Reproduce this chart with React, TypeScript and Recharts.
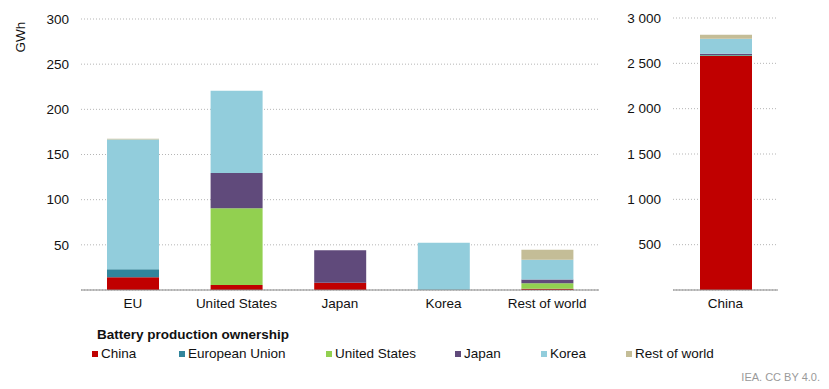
import { BarChart, Bar, XAxis, YAxis, CartesianGrid } from 'recharts'

// Categories: the first five go in the left panel, China gets its own scale on the right
const categories = ['EU', 'United States', 'Japan', 'Korea', 'Rest of world', 'China']

// Battery production (GWh) by ownership
const ownChina = [14, 5.5, 8, 0, 1.5, 2580]
const ownEU = [9, 0, 0, 0, 0, 8]
const ownUS = [0, 85, 0, 0, 6, 5]
const ownJapan = [0, 39, 36, 0, 4, 12]
const ownKorea = [143.5, 91, 0, 52.4, 22, 165]
const ownRoW = [1, 0, 0, 0, 11, 45]

const leftTicks = [50, 100, 150, 200, 250, 300]
const rightTicks = [500, 1000, 1500, 2000, 2500, 3000]

const series = [
  { key: 'china', name: 'China', color: '#C00000', values: ownChina },
  { key: 'eu', name: 'European Union', color: '#31859C', values: ownEU },
  { key: 'us', name: 'United States', color: '#92D050', values: ownUS },
  { key: 'japan', name: 'Japan', color: '#604A7B', values: ownJapan },
  { key: 'korea', name: 'Korea', color: '#92CDDC', values: ownKorea },
  { key: 'row', name: 'Rest of world', color: '#C4BD97', values: ownRoW },
]

const rows = categories.map((name, i) => {
  const row: Record<string, string | number> = { name }
  series.forEach((s) => {
    row[s.key] = s.values[i]
  })
  return row
})
const leftData = rows.slice(0, 5)
const rightData = rows.slice(5)

const font = '"Liberation Sans", Arial, sans-serif'
const tickStyle = { fontSize: 13.5, fill: '#111', fontFamily: font }
const fmtThousands = (v: number) => String(v).replace(/\B(?=(\d{3})+(?!\d))/g, ' ')

// legend item x positions, as laid out in the original
const legendX = [92, 179, 326, 455, 541, 626]

if (typeof document !== 'undefined') document.body.style.margin = '0'

export default function App() {
  const bars = series.map((s) => (
    <Bar key={s.key} dataKey={s.key} name={s.name} stackId="a" fill={s.color} barSize={52} isAnimationActive={false} />
  ))

  return (
    <div style={{ position: 'relative', width: 829, height: 389, background: '#fff', fontFamily: font, overflow: 'hidden' }}>
      <div
        style={{
          position: 'absolute', left: 20, top: 37, transform: 'translate(-50%, -50%) rotate(-90deg)',
          fontSize: 13.5, color: '#111', whiteSpace: 'nowrap',
        }}
      >
        GWh
      </div>

      <div style={{ position: 'absolute', left: 0, top: 0 }}>
        <BarChart width={610} height={320} data={leftData} margin={{ top: 19, right: 11, left: 0, bottom: 0 }}>
          <CartesianGrid vertical={false} stroke="#b5b5b5" strokeDasharray="1 2" />
          <XAxis dataKey="name" axisLine={{ stroke: '#888' }} tickLine={false} tick={tickStyle} height={30} interval={0} />
          <YAxis domain={[0, 300]} ticks={leftTicks} axisLine={false} tickLine={false} tick={tickStyle} width={81} tickMargin={6} />
          {bars}
        </BarChart>
      </div>

      <div style={{ position: 'absolute', left: 600, top: 0 }}>
        <BarChart width={190} height={320} data={rightData} margin={{ top: 18, right: 12, left: 0, bottom: 0 }}>
          <CartesianGrid vertical={false} stroke="#b5b5b5" strokeDasharray="1 2" />
          <XAxis dataKey="name" axisLine={{ stroke: '#888' }} tickLine={false} tick={tickStyle} height={30} />
          <YAxis
            domain={[0, 3000]}
            ticks={rightTicks}
            tickFormatter={fmtThousands}
            axisLine={false}
            tickLine={false}
            tick={tickStyle}
            width={73}
            tickMargin={6}
          />
          {bars}
        </BarChart>
      </div>

      <div style={{ position: 'absolute', left: 97, top: 327, fontSize: 13.5, fontWeight: 'bold', color: '#111' }}>
        Battery production ownership
      </div>
      {series.map((s, i) => (
        <div
          key={s.key}
          style={{ position: 'absolute', left: legendX[i], top: 346, fontSize: 13.5, color: '#111', display: 'flex', alignItems: 'center', whiteSpace: 'nowrap' }}
        >
          <span style={{ display: 'inline-block', width: 6, height: 6, background: s.color, marginRight: 3 }} />
          {s.name}
        </div>
      ))}
      <div style={{ position: 'absolute', right: 9, top: 371, fontSize: 11, color: '#9a9a9a' }}>IEA. CC BY 4.0.</div>
    </div>
  )
}
